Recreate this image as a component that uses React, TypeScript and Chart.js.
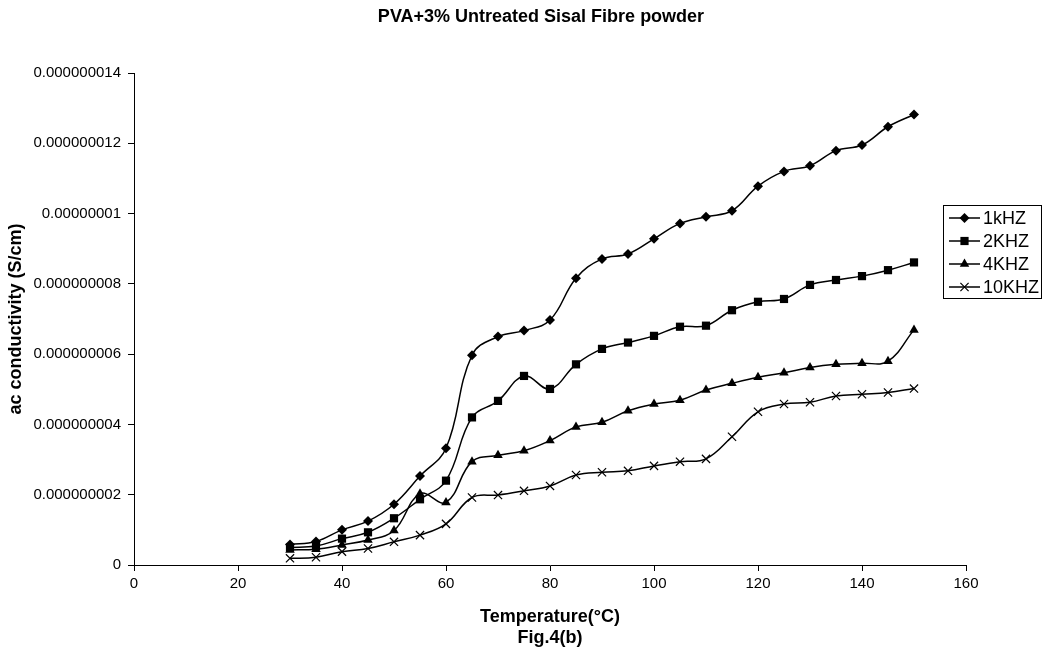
import React, { useEffect, useRef } from 'react';
import { Chart, registerables } from 'chart.js';

Chart.register(...registerables);

// Temperature (°C)
const temperatures = [30, 35, 40, 45, 50, 55, 60, 65, 70, 75, 80, 85, 90, 95, 100, 105, 110, 115, 120, 125, 130, 135, 140, 145, 150];

// ac conductivity, in units of 1e-9 S/cm
const series1kHz = [0.58, 0.67, 1.0, 1.25, 1.73, 2.53, 3.32, 5.97, 6.5, 6.67, 6.97, 8.16, 8.71, 8.85, 9.28, 9.72, 9.91, 10.08, 10.78, 11.2, 11.36, 11.79, 11.95, 12.47, 12.82];
const series2kHz = [0.5, 0.54, 0.75, 0.93, 1.33, 1.87, 2.4, 4.2, 4.67, 5.38, 5.01, 5.71, 6.15, 6.33, 6.52, 6.78, 6.81, 7.25, 7.49, 7.57, 7.97, 8.11, 8.22, 8.39, 8.61];
const series4kHz = [0.43, 0.45, 0.57, 0.71, 0.98, 2.03, 1.78, 2.94, 3.12, 3.25, 3.54, 3.93, 4.06, 4.39, 4.58, 4.69, 4.98, 5.17, 5.34, 5.47, 5.62, 5.71, 5.74, 5.8, 6.69];
const series10kHz = [0.19, 0.22, 0.38, 0.47, 0.66, 0.85, 1.17, 1.92, 1.99, 2.11, 2.25, 2.56, 2.64, 2.68, 2.82, 2.94, 3.02, 3.65, 4.36, 4.58, 4.63, 4.81, 4.86, 4.91, 5.02];

const seriesNames = ['1kHZ', '2KHZ', '4KHZ', '10KHZ'];
const seriesValues = [series1kHz, series2kHz, series4kHz, series10kHz];
const pointStyles = ['rectRot', 'rect', 'triangle', 'crossRot'];
const pointRadii = [5, 5.8, 5.5, 5.8];

const yTickLabels = ['0', '0.000000002', '0.000000004', '0.000000006', '0.000000008', '0.00000001', '0.000000012', '0.000000014'];

const chartTitle = 'PVA+3% Untreated Sisal Fibre powder';

const FONT = '"Liberation Sans", Arial, Helvetica, sans-serif';

function drawMarker(ctx: CanvasRenderingContext2D, style: string, x: number, y: number, r: number) {
  ctx.beginPath();
  if (style === 'rectRot') {
    ctx.moveTo(x, y - r);
    ctx.lineTo(x + r, y);
    ctx.lineTo(x, y + r);
    ctx.lineTo(x - r, y);
    ctx.closePath();
    ctx.fill();
  } else if (style === 'rect') {
    const s = r * Math.SQRT1_2;
    ctx.rect(x - s, y - s, 2 * s, 2 * s);
    ctx.fill();
  } else if (style === 'triangle') {
    let rad = 0;
    ctx.moveTo(x + Math.sin(rad) * r, y - Math.cos(rad) * r);
    rad += (2 * Math.PI) / 3;
    ctx.lineTo(x + Math.sin(rad) * r, y - Math.cos(rad) * r);
    rad += (2 * Math.PI) / 3;
    ctx.lineTo(x + Math.sin(rad) * r, y - Math.cos(rad) * r);
    ctx.closePath();
    ctx.fill();
  } else {
    const o = r * Math.SQRT1_2;
    ctx.moveTo(x - o, y - o);
    ctx.lineTo(x + o, y + o);
    ctx.moveTo(x + o, y - o);
    ctx.lineTo(x - o, y + o);
    ctx.lineWidth = 1.2;
    ctx.stroke();
  }
}

const titleAndLegend = {
  id: 'titleAndLegend',
  afterDraw(chart: any) {
    const ctx: CanvasRenderingContext2D = chart.ctx;
    const area = chart.chartArea;
    ctx.save();

    // Title, centred slightly left of the plot-area centre
    ctx.fillStyle = '#000';
    ctx.font = `bold 18px ${FONT}`;
    ctx.textAlign = 'center';
    ctx.textBaseline = 'middle';
    ctx.fillText(chartTitle, (area.left + area.right) / 2 - 9, 17);

    // Boxed legend at the right
    const left = area.right - 23;
    const top = 205;
    const width = chart.width - left - 1;
    const rowH = 23;
    const height = rowH * chart.data.datasets.length + 1;
    ctx.strokeStyle = '#000';
    ctx.lineWidth = 1;
    ctx.strokeRect(Math.round(left) + 0.5, top + 0.5, Math.round(width), height);
    chart.data.datasets.forEach((ds: any, i: number) => {
      const y = top + 13 + i * rowH;
      ctx.strokeStyle = '#000';
      ctx.fillStyle = '#000';
      ctx.lineWidth = 1.5;
      ctx.beginPath();
      ctx.moveTo(left + 6, y);
      ctx.lineTo(left + 37, y);
      ctx.stroke();
      drawMarker(ctx, ds.pointStyle, left + 21.5, y, ds.pointRadius);
      ctx.fillStyle = '#000';
      ctx.font = `18px ${FONT}`;
      ctx.textBaseline = 'middle';
      ctx.textAlign = 'left';
      ctx.fillText(ds.label, left + 40, y + 1);
    });
    ctx.restore();
  },
};

export default function App() {
  const canvasRef = useRef<HTMLCanvasElement | null>(null);

  useEffect(() => {
    if (!canvasRef.current) return;
    Chart.defaults.font.family = FONT;
    Chart.defaults.color = '#000';

    const datasets = seriesNames.map((name, i) => ({
      label: name,
      data: temperatures.map((t, j) => ({ x: t, y: seriesValues[i][j] })),
      borderColor: '#000',
      backgroundColor: '#000',
      borderWidth: 1.5,
      pointStyle: pointStyles[i],
      pointRadius: pointRadii[i],
      pointBackgroundColor: '#000',
      pointBorderColor: '#000',
      pointBorderWidth: pointStyles[i] === 'crossRot' ? 1.2 : 0,
      tension: 0.4,
      fill: false,
    }));

    const chart = new Chart(canvasRef.current, {
      type: 'line',
      data: { datasets },
      options: {
        animation: false,
        responsive: true,
        maintainAspectRatio: false,
        layout: { padding: { left: 0, right: 76, top: 73, bottom: 0 } },
        plugins: {
          legend: { display: false },
          tooltip: { enabled: false },
          title: { display: false },
        },
        scales: {
          x: {
            type: 'linear',
            min: 0,
            max: 160,
            ticks: { stepSize: 20, color: '#000', font: { size: 15, family: FONT }, padding: 4, maxRotation: 0 },
            grid: { drawOnChartArea: false, drawTicks: true, tickLength: 6, tickColor: '#000', tickWidth: 1 },
            border: { color: '#000', width: 1 },
            title: {
              display: true,
              text: ['Temperature(°C)', 'Fig.4(b)'],
              color: '#000',
              font: { size: 18, weight: 'bold', family: FONT, lineHeight: 1.15 },
              padding: { top: 0, bottom: 4 },
            },
            afterFit: (s: any) => {
              s.height = 87;
            },
          },
          y: {
            type: 'linear',
            min: 0,
            max: 14,
            ticks: {
              stepSize: 2,
              color: '#000',
              font: { size: 15, family: FONT },
              padding: 7,
              callback: (v: any) => yTickLabels[Math.round(Number(v) / 2)],
            },
            grid: { drawOnChartArea: false, drawTicks: true, tickLength: 6, tickColor: '#000', tickWidth: 1 },
            border: { color: '#000', width: 1 },
            title: {
              display: true,
              text: 'ac conductivity (S/cm)',
              color: '#000',
              font: { size: 18, weight: 'bold', family: FONT },
              padding: { top: 5, bottom: 0 },
            },
            afterFit: (s: any) => {
              s.width = 134;
            },
          },
        },
      },
      plugins: [titleAndLegend],
    });

    return () => chart.destroy();
  }, []);

  return (
    <div style={{ position: 'absolute', left: 0, top: 0, width: 1042, height: 652, background: '#fff' }}>
      <canvas ref={canvasRef} />
    </div>
  );
}
